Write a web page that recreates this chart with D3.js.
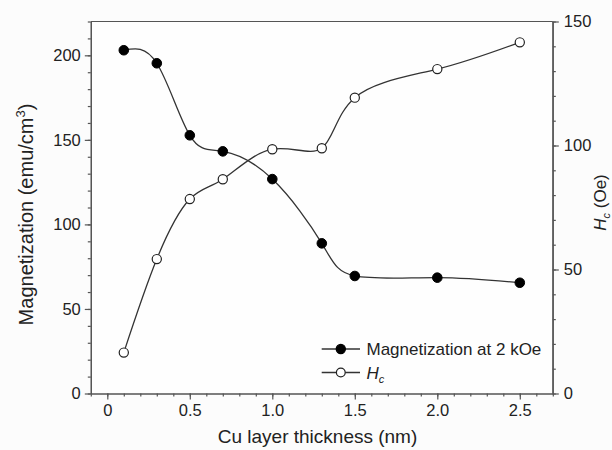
<!DOCTYPE html>
<html><head><meta charset="utf-8">
<script src="https://cdn.jsdelivr.net/npm/d3@7"></script>
<style>
body{margin:0;background:#fcfcfc;}
svg{display:block;font-family:"Liberation Sans",Arial,sans-serif;}
</style></head>
<body>
<svg id="chart" width="612" height="450"></svg>
<script>
const thickness = [0.1, 0.3, 0.5, 0.7, 1.0, 1.3, 1.5, 2.0, 2.5];
const magnetization = [203, 195.3, 152.7, 143.2, 126.8, 88.8, 69.5, 68.5, 65.5];
const hc = [16.5, 54.2, 78.4, 86.4, 98.5, 98.9, 119.3, 130.8, 141.6];
const xTicks = [0, 0.5, 1.0, 1.5, 2.0, 2.5];
const yLeftTicks = [0, 50, 100, 150, 200];
const yRightTicks = [0, 50, 100, 150];

const svg = d3.select("#chart");
const L = 90.8, R = 552.8, T = 21.5, B = 393.5;
const axisColor = "#555";
const lineColor = "#333";

const x = d3.scaleLinear().domain([-0.1, 2.7]).range([L, R]);
const yL = d3.scaleLinear().domain([0, 220]).range([B, T]);
const yR = d3.scaleLinear().domain([0, 150]).range([B, T]);

svg.append("rect").attr("width",612).attr("height",450).attr("fill","#fcfcfc");
svg.append("rect").attr("x",L).attr("y",T).attr("width",R-L).attr("height",B-T).attr("fill","#fefefe");

function styleAxis(g){
  g.selectAll("path,line").attr("stroke",axisColor).attr("stroke-width",1.2);
  g.selectAll("text").attr("fill","#222").style("font-size","16.5px").style("font-family","'Liberation Sans',Arial,sans-serif");
}

// minor ticks
const xMinor = d3.range(-0.1, 2.71, 0.1).map(v=>+v.toFixed(2));
svg.append("g").attr("transform",`translate(0,${B})`)
  .call(d3.axisBottom(x).tickValues(xMinor).tickSize(3).tickFormat("").tickSizeOuter(0))
  .call(styleAxis);
svg.append("g").attr("transform",`translate(${L},0)`)
  .call(d3.axisLeft(yL).tickValues(d3.range(0,221,10)).tickSize(3).tickFormat("").tickSizeOuter(0))
  .call(styleAxis);
svg.append("g").attr("transform",`translate(${R},0)`)
  .call(d3.axisRight(yR).tickValues(d3.range(0,151,10)).tickSize(3).tickFormat("").tickSizeOuter(0))
  .call(styleAxis);

// major axes
const gx = svg.append("g").attr("transform",`translate(0,${B})`)
  .call(d3.axisBottom(x).tickValues(xTicks).tickSize(6).tickPadding(5).tickSizeOuter(0)
    .tickFormat(d=> d===0 ? "0" : d3.format(".1f")(d)))
  .call(styleAxis);
const gyl = svg.append("g").attr("transform",`translate(${L},0)`)
  .call(d3.axisLeft(yL).tickValues(yLeftTicks).tickSize(6).tickPadding(4).tickSizeOuter(0))
  .call(styleAxis);
const gyr = svg.append("g").attr("transform",`translate(${R},0)`)
  .call(d3.axisRight(yR).tickValues(yRightTicks).tickSize(6).tickPadding(5).tickSizeOuter(0))
  .call(styleAxis);
gyr.select(".domain").attr("d",`M0,${T}V${B}`);
// top frame line
svg.append("line").attr("x1",L).attr("x2",R).attr("y1",T).attr("y2",T)
  .attr("stroke",axisColor).attr("stroke-width",1.2);

// axis titles
svg.append("text").attr("x",(218+417)/2).attr("y",443).attr("text-anchor","middle")
  .style("font-size","19px").attr("fill","#222").text("Cu layer thickness (nm)");
const yt = svg.append("text").attr("transform",`translate(33,${(97+332)/2}) rotate(-90)`)
  .attr("text-anchor","middle").style("font-size","20px").attr("fill","#222");
yt.append("tspan").text("Magnetization (emu/cm");
yt.append("tspan").attr("dy",-8).style("font-size","13px").text("3");
yt.append("tspan").attr("dy",8).text(")");
const rt = svg.append("text").attr("transform",`translate(606,${(172+233)/2}) rotate(-90)`)
  .attr("text-anchor","middle").style("font-size","17px").attr("fill","#222");
rt.append("tspan").style("font-style","italic").text("H");
rt.append("tspan").attr("dy",4).style("font-size","11px").style("font-style","italic").text("c");
rt.append("tspan").attr("dy",-4).text(" (Oe)");

// lines
const lineM = d3.line().x((d,i)=>x(thickness[i])).y(d=>yL(d)).curve(d3.curveNatural);
const lineH = d3.line().x((d,i)=>x(thickness[i])).y(d=>yR(d)).curve(d3.curveNatural);
svg.append("path").attr("d",lineM(magnetization)).attr("fill","none").attr("stroke",lineColor).attr("stroke-width",1.3);
svg.append("path").attr("d",lineH(hc)).attr("fill","none").attr("stroke",lineColor).attr("stroke-width",1.3);

svg.append("g").selectAll("circle").data(magnetization).join("circle")
  .attr("cx",(d,i)=>x(thickness[i])).attr("cy",d=>yL(d)).attr("r",4.8)
  .attr("fill","#000").attr("stroke","#000").attr("stroke-width",1);
svg.append("g").selectAll("circle").data(hc).join("circle")
  .attr("cx",(d,i)=>x(thickness[i])).attr("cy",d=>yR(d)).attr("r",4.6)
  .attr("fill","#fff").attr("stroke","#222").attr("stroke-width",1.2);

// legend
const leg = svg.append("g");
const legRows = [{label:"Magnetization at 2 kOe", fill:"#000", y:349},{label:"H", fill:"#fff", y:372.5}];
legRows.forEach((r,i)=>{
  leg.append("line").attr("x1",321.7).attr("x2",360).attr("y1",r.y).attr("y2",r.y)
    .attr("stroke",lineColor).attr("stroke-width",1.3);
  leg.append("circle").attr("cx",340.8).attr("cy",r.y).attr("r",i===0?4.6:4.4)
    .attr("fill",r.fill).attr("stroke",i===0?"#000":"#222").attr("stroke-width",1.2);
  const t = leg.append("text").attr("x",366.5).attr("y",r.y+6).style("font-size","17px").attr("fill","#222");
  if(i===0){ t.text(r.label); }
  else {
    t.append("tspan").style("font-style","italic").text("H");
    t.append("tspan").attr("dy",4).style("font-size","11px").style("font-style","italic").text("c");
  }
});
</script>
</body></html>
